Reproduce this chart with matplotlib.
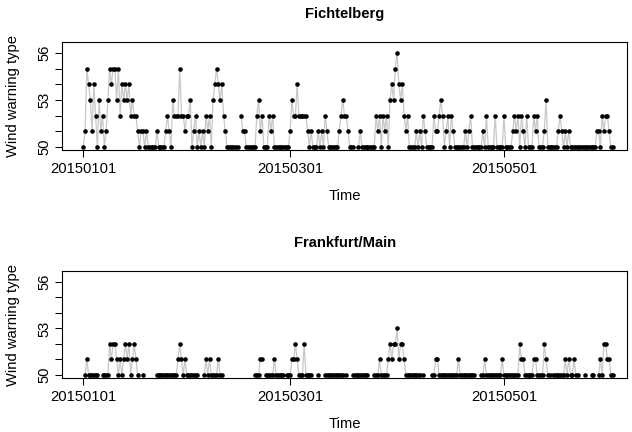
import numpy as np
import pandas as pd
import matplotlib
matplotlib.use("Agg")
import matplotlib.pyplot as plt
import matplotlib.dates as mdates

plt.rcParams['font.family'] = ['Liberation Sans', 'DejaVu Sans']

N = np.nan

# Observations every 12 hours from 2015-01-01 00:00, wind warning type (NaN = missing)
fichtelberg = [
    50,51, 55,54, 53,51, 54,52, 50,53, 51,52, 50,51, 53,55, 54,55, 55,53,
    55,52, 54,53, 54,53, 54,52, 53,52, 52,51, 50,51, 51,50, 51,50, 50,50,
    50,50, 51,50, 50,50, 50,51, 52,51, 50,53, 52,52, 52,55, 52,52, 51,52,
    52,53, 50,51, 52,50, 51,50, 51,50, 52,51, 52,50, 53,54, 55,54, 53,54,
    52,51, 50,50, 50,50, 50,50, 50,N,  52,51, 51,50, 50,50, 50,50, 50,52,
    53,51, 52,50, 50,50, 52,51, 52,50, 50,50, 50,50, 50,50, 50,50, 51,53,
    52,52, 54,52, 52,52, 52,52, 51,50, 51,50, 50,50, 51,50, 51,50, 52,51,
    50,50, 50,50, 50,50, 51,52, 53,52, 52,51, 50,50, 50,N,  N,50,  51,50,
    50,50, 50,50, 50,50, 50,52, 51,52, 50,52, 51,52, 50,53, 54,53, 55,56,
    54,53, 54,52, 51,52, 50,50, 50,50, 51,50, 51,50, 52,51, 50,50, 50,50,
    52,51, 51,52, 53,52, 50,51, 52,50, 52,51, 50,50, 50,50, 50,50, 51,50,
    51,52, 50,50, 50,50, 50,50, 51,50, 52,50, 50,50, 50,52, 50,50, 50,50,
    52,50, 50,50, 50,51, 52,51, 52,50, 52,51, 50,52, 50,50, 50,52, 51,52,
    50,50, 50,51, 53,50, 50,50, 50,50, 50,51, 52,51, 50,51, 50,51, 50,50,
    50,50, 50,50, 50,50, 50,50, 50,50, 50,50, 50,51, 51,50, 52,51, 52,52,
    51,50, 50,
]

frankfurt = [
    N,50,  51,50, 50,50, 50,50, 50,N,  N,50,  50,50, 50,52, 51,52, 52,51,
    50,51, 50,51, 52,51, 52,50, 51,52, 51,50, N,N,   50,N,  N,N,   N,N,
    N,N,   50,50, 50,50, 50,50, 50,50, 50,50, 50,50, 51,52, 51,50, 51,50,
    50,50, 50,50, 50,50, N,N,   N,50,  51,50, 51,50, 50,50, 50,51, 50,50,
    N,N,   N,N,   N,N,   N,N,   N,N,   N,N,   N,N,   N,N,   N,N,   50,50,
    50,51, 51,N,  50,50, 50,50, 50,51, 50,50, 50,50, 50,N,  50,50, 50,51,
    51,52, 51,50, 50,50, 52,50, 50,50, 50,N,  N,N,   50,N,  N,N,   50,50,
    50,50, 50,50, 50,50, 50,50, 50,N,  50,N,  N,N,   50,50, 50,50, 50,50,
    50,50, 50,N,  N,N,   50,50, 50,51, 50,50, 50,50, 51,52, 51,52, 52,53,
    51,52, 52,51, 50,50, 50,50, 50,50, 50,50, 50,N,  50,N,  N,N,   N,50,
    50,51, 51,50, 50,50, 50,50, 50,50, 50,50, 50,50, 51,50, 50,50, 50,50,
    50,50, 50,50, N,N,   N,50,  50,51, 50,50, 50,50, 50,50, 50,50, 50,51,
    50,50, 50,50, 50,50, 50,50, 50,52, 51,51, 50,50, 50,50, 50,51, 51,50,
    50,50, 50,52, 51,50, 50,N,  50,50, 50,50, 50,50, 50,51, 50,51, 50,50,
    51,50, 50,N,  N,N,   50,N,  N,N,   50,50, N,N,   50,51, 50,52, 52,51,
    51,50, 50,
]

stations = ["Fichtelberg", "Frankfurt/Main"]
series = [fichtelberg, frankfurt]
start_time = "2015-01-01 00:00"
step = "12h"
x_ticks = ["2015-01-01", "2015-03-01", "2015-05-01"]
x_tick_labels = ["20150101", "20150301", "20150501"]
y_ticks = [50, 51, 52, 53, 54, 55, 56]
y_tick_labels = ["50", "", "", "53", "", "", "56"]

W, H = 632, 432
FS = 10.6
fig = plt.figure(figsize=(W / 100, H / 100), dpi=100)

panel_px = [(42, 150), (271, 378)]  # top, bottom pixel rows of each axes box
left_px, right_px = 62.3, 627

t0 = pd.Timestamp(start_time)
for (top, bot), name, vals in zip(panel_px, stations, series):
    ax = fig.add_axes([left_px / W, 1 - bot / H, (right_px - left_px) / W, (bot - top) / H])
    v = np.array(vals, dtype=float)
    t = pd.date_range(t0, periods=len(v), freq=step)
    ax.plot(t, v, color="#c8c8c8", lw=0.9, zorder=1)
    ax.plot(t, v, ls="none", marker="o", ms=3.3, mfc="black", mec="black", mew=0, zorder=2)
    ax.set_xlim(t0 - pd.Timedelta(days=6.0), t0 + pd.Timedelta(days=155.1))
    ax.set_ylim(49.8, 56.7)
    ax.set_xticks([mdates.date2num(pd.Timestamp(d)) for d in x_ticks])
    ax.set_xticklabels(x_tick_labels)
    ax.set_yticks(y_ticks)
    ax.set_yticklabels(y_tick_labels, rotation=90, va="center")
    ax.tick_params(axis="both", direction="out", length=5, width=0.75, labelsize=FS, color="black")
    ax.tick_params(axis="x", pad=3.5)
    ax.tick_params(axis="y", pad=2.5)
    for s in ax.spines.values():
        s.set_linewidth(0.8)
        s.set_color("black")
    cx = (left_px + right_px) / 2 / W
    fig.text(cx, 1 - (top - 28) / H, name, fontsize=FS, fontweight="bold", ha="center", va="center")
    fig.text(cx, 1 - (bot + 46) / H, "Time", fontsize=FS, ha="center", va="center")
    fig.text(13 / W, 1 - ((top + bot) / 2) / H, "Wind warning type", fontsize=FS,
             rotation=90, ha="center", va="center")

fig.savefig("out.png", dpi=100)
